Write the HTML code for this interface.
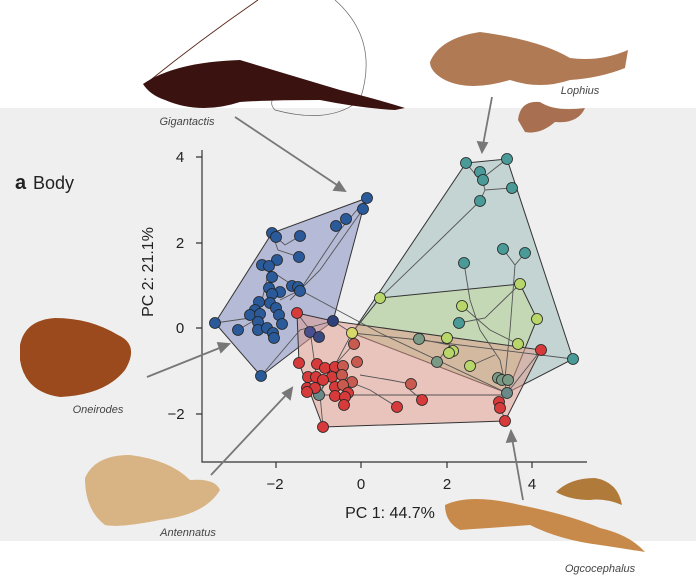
<!DOCTYPE html>
<html><head><meta charset="utf-8"><style>
body{margin:0;width:696px;height:577px;overflow:hidden;background:#fff;font-family:"Liberation Sans",sans-serif}
</style></head><body>
<svg width="696" height="577" xmlns="http://www.w3.org/2000/svg" font-family="Liberation Sans, sans-serif">
<rect x="0" y="0" width="696" height="577" fill="#fff"/>
<rect x="0" y="108" width="696" height="433" fill="#efefef"/>
<polygon points="215,323 272,233 367,198 363,209 333,321 261,376" fill="#7b86bd" fill-opacity="0.5" stroke="#333" stroke-width="1"/>
<polygon points="466,163 507,159 573,359 507,393 352,333" fill="#8fb3b0" fill-opacity="0.45" stroke="#333" stroke-width="1"/>
<polygon points="380,298 520,284 537,319 507,393 352,333" fill="#c8dc9a" fill-opacity="0.5" stroke="#333" stroke-width="1"/>
<polygon points="297,313 333,321 541,350 505,421 323,427 299,363" fill="#e49a8c" fill-opacity="0.5" stroke="#333" stroke-width="1"/>
<g stroke="#555" stroke-width="0.9" fill="none">
<path d="M367,198 L340,230 L300,290 L280,300 M363,209 L320,270 L290,300 M272,233 L278,250 L299,257 M276,237 L285,245 L300,236 M270,266 L262,300 L250,315 M259,302 L255,320 L238,330 M215,323 L250,318 M261,376 L300,330 L333,321 M262,265 L300,290 L380,333 L507,393"/>
<path d="M466,163 L480,180 L507,159 M480,172 L485,190 L512,188 M485,190 L480,201 L440,240 L380,298 M503,249 L515,265 L525,253 M515,265 L510,330 L505,378 M464,263 L470,300 L480,330 L500,360 L507,393 M459,323 L485,318 L520,284 M419,339 L450,345 L437,362 M462,306 L490,330 L518,344 M470,366 L495,355 M352,333 L420,340 L573,359"/>
<path d="M297,313 L310,330 L319,395 M354,344 L330,370 L319,395 M411,384 L390,380 L360,375 M422,400 L410,390 M397,407 L370,390 L345,380 M499,402 L505,421 M541,350 L507,393 M333,321 L352,333 L319,395 L505,395 M323,427 L320,395"/>
</g>
<g stroke="#222" stroke-width="0.8">
<g fill="#2a5a9a">
<circle cx="367" cy="198" r="5.5"/><circle cx="363" cy="209" r="5.5"/><circle cx="346" cy="219" r="5.5"/><circle cx="336" cy="226" r="5.5"/><circle cx="272" cy="233" r="5.5"/><circle cx="276" cy="237" r="5.5"/><circle cx="300" cy="236" r="5.5"/><circle cx="299" cy="257" r="5.5"/><circle cx="277" cy="260" r="5.5"/><circle cx="262" cy="265" r="5.5"/><circle cx="269" cy="266" r="5.5"/><circle cx="272" cy="277" r="5.5"/><circle cx="269" cy="288" r="5.5"/><circle cx="280" cy="292" r="5.5"/><circle cx="292" cy="286" r="5.5"/><circle cx="298" cy="287" r="5.5"/><circle cx="300" cy="291" r="5.5"/><circle cx="272" cy="294" r="5.5"/><circle cx="259" cy="302" r="5.5"/><circle cx="270" cy="303" r="5.5"/><circle cx="276" cy="308" r="5.5"/><circle cx="255" cy="310" r="5.5"/><circle cx="250" cy="315" r="5.5"/><circle cx="260" cy="314" r="5.5"/><circle cx="279" cy="315" r="5.5"/><circle cx="258" cy="322" r="5.5"/><circle cx="282" cy="324" r="5.5"/><circle cx="215" cy="323" r="5.5"/><circle cx="238" cy="330" r="5.5"/><circle cx="258" cy="330" r="5.5"/><circle cx="267" cy="328" r="5.5"/><circle cx="273" cy="333" r="5.5"/><circle cx="274" cy="338" r="5.5"/><circle cx="261" cy="376" r="5.5"/><circle cx="333" cy="321" r="5.5" fill="#2e3f7a"/>
<circle cx="310" cy="332" r="5.5" fill="#4a4f8f"/><circle cx="319" cy="337" r="5.5" fill="#3a4a80"/>
</g>
<g fill="#4a9a98">
<circle cx="466" cy="163" r="5.5"/><circle cx="507" cy="159" r="5.5"/><circle cx="480" cy="172" r="5.5"/><circle cx="483" cy="180" r="5.5"/><circle cx="512" cy="188" r="5.5"/><circle cx="480" cy="201" r="5.5"/><circle cx="503" cy="249" r="5.5"/><circle cx="525" cy="253" r="5.5"/><circle cx="464" cy="263" r="5.5"/><circle cx="459" cy="323" r="5.5"/><circle cx="419" cy="339" r="5.5" fill="#7a9a85"/><circle cx="437" cy="362" r="5.5" fill="#7a9a85"/><circle cx="573" cy="359" r="5.5"/><circle cx="498" cy="378" r="5.5" fill="#7a9a85"/><circle cx="502" cy="380" r="5.5" fill="#7a9a85"/><circle cx="508" cy="380" r="5.5" fill="#7a9a85"/><circle cx="507" cy="393" r="5.5" fill="#6a8a8a"/><circle cx="319" cy="395" r="5.5" fill="#6a8a8a"/>
</g>
<g fill="#b8d66a">
<circle cx="380" cy="298" r="5.5"/><circle cx="520" cy="284" r="5.5"/><circle cx="537" cy="319" r="5.5"/><circle cx="462" cy="306" r="5.5"/><circle cx="447" cy="338" r="5.5"/><circle cx="453" cy="351" r="5.5"/><circle cx="449" cy="353" r="5.5"/><circle cx="518" cy="344" r="5.5"/><circle cx="470" cy="366" r="5.5"/><circle cx="352" cy="333" r="5.5" fill="#d8d86a"/>
</g>
<g fill="#d63a3a">
<circle cx="297" cy="313" r="5.5"/><circle cx="354" cy="344" r="5.5" fill="#c85a50"/><circle cx="357" cy="362" r="5.5" fill="#c85a50"/><circle cx="299" cy="363" r="5.5"/><circle cx="317" cy="364" r="5.5"/><circle cx="325" cy="368" r="5.5"/><circle cx="335" cy="367" r="5.5"/><circle cx="343" cy="366" r="5.5" fill="#c85a50"/><circle cx="308" cy="377" r="5.5"/><circle cx="316" cy="377" r="5.5"/><circle cx="332" cy="377" r="5.5"/><circle cx="342" cy="375" r="5.5" fill="#c85a50"/><circle cx="323" cy="380" r="5.5"/><circle cx="352" cy="382" r="5.5" fill="#c85a50"/><circle cx="307" cy="388" r="5.5"/><circle cx="315" cy="388" r="5.5"/><circle cx="335" cy="387" r="5.5"/><circle cx="343" cy="385" r="5.5" fill="#c85a50"/><circle cx="307" cy="392" r="5.5"/><circle cx="348" cy="393" r="5.5"/><circle cx="335" cy="396" r="5.5"/><circle cx="345" cy="397" r="5.5"/><circle cx="344" cy="405" r="5.5"/><circle cx="411" cy="384" r="5.5" fill="#c85a50"/><circle cx="422" cy="400" r="5.5"/><circle cx="397" cy="407" r="5.5"/><circle cx="541" cy="350" r="5.5"/><circle cx="499" cy="402" r="5.5"/><circle cx="500" cy="408" r="5.5"/><circle cx="505" cy="421" r="5.5"/><circle cx="323" cy="427" r="5.5"/>
</g>
</g>
<g stroke="#333" stroke-width="1.2" fill="none">
<path d="M202,150 V462 H587"/>
<path d="M196,157 H202 M196,243 H202 M196,328 H202 M196,414 H202"/>
<path d="M276,462 V468 M361,462 V468 M447,462 V468 M532,462 V468"/>
</g>
<g font-size="15" fill="#222" text-anchor="middle">
<text x="180" y="162">4</text><text x="180" y="248">2</text><text x="180" y="333">0</text><text x="176" y="419">−2</text>
<text x="275" y="489">−2</text><text x="361" y="489">0</text><text x="447" y="489">2</text><text x="532" y="489">4</text>
<text x="390" y="518" font-size="16">PC 1: 44.7%</text>
<text transform="translate(153,272) rotate(-90)" font-size="16">PC 2: 21.1%</text>
</g>
<text x="15" y="189" font-size="20" font-weight="bold" fill="#222">a</text>
<text x="33" y="189" font-size="18" fill="#222">Body</text>
<g stroke="#777" stroke-width="1.8" fill="#777">
<line x1="235" y1="117" x2="340" y2="187"/><polygon points="345,191 334,190 339,182"/>
<line x1="492" y1="97" x2="483" y2="145"/><polygon points="482,152 478,142 487,143"/>
<line x1="147" y1="377" x2="222" y2="347"/><polygon points="229,344 221,352 218,343"/>
<line x1="211" y1="475" x2="287" y2="394"/><polygon points="292,388 290,399 283,393"/>
<line x1="523" y1="500" x2="512" y2="438"/><polygon points="511,431 516,441 507,442"/>
</g>
<path d="M258,0 Q200,40 148,82" stroke="#5a2a1a" fill="none" stroke-width="1"/>
<path d="M335,0 Q380,40 360,100 Q330,125 275,110 Q265,100 285,88" stroke="#666" fill="none" stroke-width="0.7"/>
<path d="M143,84 Q175,62 240,60 Q290,75 340,90 Q380,100 405,108 L395,110 Q360,108 320,100 Q270,100 240,102 Q200,115 165,100 Q150,95 143,84Z" fill="#3a1210"/>
<path d="M430,62 Q440,38 480,32 Q540,40 570,58 Q600,62 628,50 L625,68 Q600,78 570,80 Q540,90 510,80 Q470,92 445,80 Q430,72 430,62Z" fill="#b07a55"/>
<path d="M518,120 Q520,100 540,102 Q555,112 585,108 Q578,124 555,122 Q540,135 525,132Z" fill="#a87050"/>
<path d="M20,345 Q25,320 55,318 Q90,318 118,335 Q140,345 125,370 Q105,395 60,397 Q25,392 20,360Z" fill="#9a4a1c"/>
<path d="M85,478 Q95,455 130,455 Q170,460 190,480 Q215,478 220,490 Q205,515 160,520 Q120,528 105,525 Q85,510 85,478Z" fill="#d8b484"/>
<path d="M445,505 Q470,493 520,505 Q570,515 600,528 Q630,535 645,552 Q620,548 600,545 Q560,540 530,525 Q490,528 460,530 Q445,522 445,505Z" fill="#c88a4a"/>
<path d="M556,492 Q570,478 595,478 Q618,482 622,505 Q605,498 590,500 Q570,500 556,492Z" fill="#b07a3a"/>
<g font-size="11" font-style="italic" fill="#444" text-anchor="middle">
<text x="187" y="125">Gigantactis</text>
<text x="580" y="94">Lophius</text>
<text x="98" y="413">Oneirodes</text>
<text x="188" y="536">Antennatus</text>
<text x="600" y="572">Ogcocephalus</text>
</g>
</svg>
</body></html>
